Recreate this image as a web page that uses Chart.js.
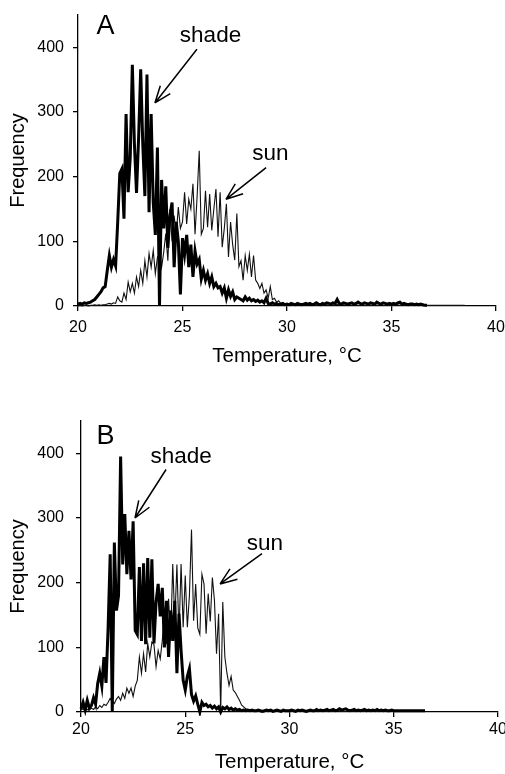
<!DOCTYPE html>
<html lang="en">
<head>
  <meta charset="UTF-8">
  <title>Temperature frequency - shade vs sun</title>
  <script src="https://cdn.jsdelivr.net/npm/chart.js"></script>
  <style>
    body {
      margin: 0;
      background: #fff;
      width: 505px;
      height: 774px;
      overflow: hidden;
      position: relative;
    }
    canvas { position: absolute; left: 0; }
    #chartA { top: 0; }
    #chartB { top: 400px; }
  </style>
</head>
<body>
  <canvas id="chartA" width="505" height="380"></canvas>
  <canvas id="chartB" width="505" height="374"></canvas>

  <script>
    // histogram bins: 0.1 degC wide, starting at 20 degC
    const binStart = 20;
    const binStep = 0.1;
    const xTicks = [20, 25, 30, 35, 40];
    const yTicks = [0, 100, 200, 300, 400];

    // panel A
    const shadeA = [
      3, 4, 3, 5, 4, 5, 6, 8, 10, 14,
      18, 22, 28, 30, 55, 78, 60, 72, 62, 130,
      205, 212, 135, 297, 176, 230, 373, 250, 175, 260,
      366, 250, 170, 358, 145, 297, 160, 110, 245, 0,
      195, 120, 185, 90, 140, 160, 60, 130, 100, 18,
      105, 80, 110, 60, 95, 45, 85, 65, 72, 42,
      55, 40, 50, 35, 45, 30, 35, 28, 30, 20,
      28, 12, 25, 15, 22, 10, 14, 12, 10, 8,
      14, 9, 12, 8, 10, 7, 9, 6, 8, 5,
      12, 4, 3, 5, 3, 4, 2, 3, 4, 2,
      3, 2, 4, 3, 2, 4, 3, 2, 3, 4,
      3, 4, 2, 3, 5, 3, 2, 4, 3, 5,
      4, 3, 5, 4, 10, 4, 3, 5, 4, 3,
      4, 5, 3, 4, 6, 4, 3, 5, 4, 3,
      5, 4, 3, 6, 4, 3, 5, 4, 3, 4,
      3, 4, 3, 5, 6, 3, 4, 3, 2, 3,
      3, 2, 3, 2, 3, 2, 1, 1
    ];
    const sunA = [
      0, 1, 0, 1, 1, 0, 1, 1, 2, 1,
      2, 1, 2, 2, 3, 4, 3, 5, 4, 14,
      8, 6, 20, 10, 37, 22, 35, 20, 45, 30,
      55, 35, 70, 45, 81, 60, 86, 50, 75, 81,
      60, 83, 112, 70, 150, 100, 140, 110, 153, 120,
      130, 176, 127, 165, 150, 189, 111, 170, 240, 111,
      120, 178, 122, 173, 117, 150, 181, 107, 176, 91,
      120, 158, 76, 130, 95, 71, 143, 61, 70, 40,
      78, 55, 80, 45, 78, 40, 35, 27, 35, 20,
      25, 12, 30, 10, 12, 6, 8, 4, 5, 3,
      2, 3, 2, 1, 2, 3, 1, 2, 1, 2,
      1, 2, 1, 2, 1, 1, 2, 1, 1, 2,
      1, 1, 2, 1, 3, 1, 1, 2, 1, 1,
      2, 1, 1, 2, 1, 1, 2, 1, 1, 1,
      1, 2, 1, 1, 1, 2, 1, 1, 1, 1,
      1, 1, 1, 2, 1, 1, 1, 1, 1, 1,
      1, 1, 1, 1, 1, 1, 1, 1, 1, 1,
      1, 1, 1, 1, 1, 1, 1, 1, 1, 1,
      1, 1, 1, 1, 1, 1
    ];

    // panel B
    const shadeB = [
      5, 15, 3, 18, 6, 10, 22, 12, 44, 60,
      40, 85, 45, 130, 244, 0, 262, 157, 180, 395,
      228, 306, 213, 280, 205, 295, 126, 120, 224, 110,
      230, 105, 238, 115, 236, 106, 170, 198, 148, 192,
      100, 172, 85, 157, 110, 172, 60, 152, 95, 49,
      34, 55, 67, 27, 17, 25, 12, 0, 15, 10,
      12, 8, 10, 6, 9, 5, 8, 0, 7, 5,
      8, 4, 6, 3, 5, 3, 4, 2, 3, 2,
      3, 2, 3, 2, 2, 3, 2, 1, 2, 3,
      2, 3, 1, 2, 3, 2, 1, 3, 2, 2,
      2, 3, 2, 1, 3, 2, 3, 2, 1, 2,
      3, 2, 2, 4, 2, 3, 2, 3, 4, 2,
      3, 4, 2, 3, 5, 3, 4, 5, 3, 2,
      3, 4, 2, 3, 2, 3, 4, 2, 3, 2,
      3, 2, 4, 2, 3, 2, 3, 2, 2, 3,
      2, 2, 2, 2, 2, 2, 2, 2, 2, 2,
      2, 2, 2, 2, 2, 2
    ];
    const sunB = [
      3, 5, 2, 4, 3, 6, 4, 8, 5, 10,
      7, 12, 10, 15, 21, 16, 13, 20, 24, 18,
      29, 21, 37, 29, 37, 24, 40, 49, 85, 60,
      90, 62, 106, 85, 108, 104, 70, 95, 82, 111,
      150, 105, 175, 110, 229, 140, 228, 120, 229, 131,
      211, 131, 180, 282, 141, 198, 130, 120, 213, 198,
      121, 183, 140, 208, 173, 90, 152, 0, 170, 85,
      60, 41, 55, 34, 30, 24, 18, 11, 8, 5,
      4, 3, 3, 2, 2, 1, 2, 1, 1, 2,
      1, 2, 1, 1, 2, 1, 1, 2, 1, 1,
      1, 1, 2, 1, 1, 1, 2, 1, 1, 1,
      1, 2, 1, 1, 1, 1, 2, 1, 1, 1,
      1, 1, 1, 2, 1, 1, 1, 1, 2, 1,
      1, 1, 2, 1, 1, 1, 1, 1, 1, 2,
      1, 1, 1, 1, 2, 1, 1, 1, 1, 1,
      1, 1, 1, 1, 1, 1, 1, 1, 1, 1,
      1, 1, 1, 1, 1, 1
    ];

    const FONT = "'Liberation Sans', Arial, sans-serif";

    function toPoints(vals) {
      return vals.map((v, i) => ({ x: +(binStart + i * binStep).toFixed(1), y: v }));
    }

    // panel letter, "shade"/"sun" labels and arrows, placed in data units
    function notesPlugin(notes) {
      return {
        id: 'notes',
        afterDraw(chart) {
          const ctx = chart.ctx;
          const xs = chart.scales.x, ys = chart.scales.y;
          const px = v => xs.getPixelForValue(v), py = v => ys.getPixelForValue(v);
          ctx.save();
          ctx.fillStyle = '#000';
          ctx.strokeStyle = '#000';
          ctx.textBaseline = 'alphabetic';

          ctx.font = '27px ' + FONT;
          ctx.textAlign = 'left';
          ctx.fillText(notes.letter.text, px(notes.letter.x), py(notes.letter.y));

          ctx.font = '22.5px ' + FONT;
          ctx.textAlign = 'center';
          notes.labels.forEach(l => ctx.fillText(l.text, px(l.x), py(l.y)));

          ctx.lineWidth = 1.5;
          notes.arrows.forEach(a => {
            const x1 = px(a[0]), y1 = py(a[1]), x2 = px(a[2]), y2 = py(a[3]);
            const ang = Math.atan2(y2 - y1, x2 - x1);
            ctx.beginPath();
            ctx.moveTo(x1, y1);
            ctx.lineTo(x2, y2);
            [-1, 1].forEach(s => {
              const b = ang + Math.PI + s * 0.36;
              ctx.moveTo(x2, y2);
              ctx.lineTo(x2 + 18 * Math.cos(b), y2 + 18 * Math.sin(b));
            });
            ctx.stroke();
          });
          ctx.restore();
        }
      };
    }

    function makeChart(id, shade, sun, geo, notes) {
      return new Chart(document.getElementById(id), {
        type: 'line',
        data: {
          datasets: [
            { label: 'shade', data: toPoints(shade), borderColor: '#000', borderWidth: 3, pointRadius: 0, tension: 0, clip: 4 },
            { label: 'sun', data: toPoints(sun), borderColor: '#111', borderWidth: 1.1, pointRadius: 0, tension: 0, clip: 4 }
          ]
        },
        plugins: [notesPlugin(notes)],
        options: {
          responsive: false,
          animation: false,
          layout: { padding: { left: 0, right: geo.right, top: geo.top, bottom: 0 } },
          plugins: { legend: { display: false }, tooltip: { enabled: false } },
          scales: {
            x: {
              type: 'linear',
              min: 20,
              max: 40,
              afterBuildTicks: s => { s.ticks = xTicks.map(v => ({ value: v })); },
              afterFit: s => { s.height = geo.xAxisH; s.paddingLeft = 0; s.paddingRight = 0; },
              grid: { drawOnChartArea: false, drawTicks: true, tickLength: 5, color: '#000', lineWidth: 1.3 },
              border: { color: '#000', width: 1.3 },
              ticks: { color: '#000', font: { family: FONT, size: 16 }, padding: geo.xTickPad, maxRotation: 0, autoSkip: false },
              title: {
                display: true,
                text: 'Temperature, °C',
                color: '#000',
                font: { family: FONT, size: 20.5, lineHeight: geo.titleLH },
                padding: { top: 0, bottom: geo.titlePad }
              }
            },
            y: {
              min: 0,
              max: 450,
              afterBuildTicks: s => { s.ticks = yTicks.map(v => ({ value: v })); },
              afterFit: s => { s.width = geo.left; s.paddingTop = 0; s.paddingBottom = 0; },
              grid: { drawOnChartArea: false, drawTicks: true, tickLength: 5, color: '#000', lineWidth: 1.3 },
              border: { color: '#000', width: 1.3 },
              ticks: { color: '#000', font: { family: FONT, size: 16 }, padding: geo.yTickPad },
              title: {
                display: true,
                text: 'Frequency',
                color: '#000',
                font: { family: FONT, size: 20 },
                padding: { top: 6, bottom: 0 }
              }
            }
          }
        }
      });
    }

    makeChart('chartA', shadeA, sunA,
      { left: 78, right: 9, top: 15, xAxisH: 74, xTickPad: 7, yTickPad: 9, titleLH: 1.2, titlePad: 11 },
      {
        letter: { text: 'A', x: 20.88, y: 420 },
        labels: [{ text: 'shade', x: 26.34, y: 408 }, { text: 'sun', x: 29.21, y: 226 }],
        arrows: [[25.69, 397, 23.68, 314], [29.0, 214, 27.08, 165]]
      });

    makeChart('chartB', shadeB, sunB,
      { left: 81, right: 7, top: 21, xAxisH: 62, xTickPad: 3, yTickPad: 12, titleLH: 1, titlePad: 1 },
      {
        letter: { text: 'B', x: 20.74, y: 415 },
        labels: [{ text: 'shade', x: 24.80, y: 385 }, { text: 'sun', x: 28.82, y: 251 }],
        arrows: [[24.08, 375, 22.59, 300], [28.68, 245, 26.67, 198]]
      });
  </script>
</body>
</html>
